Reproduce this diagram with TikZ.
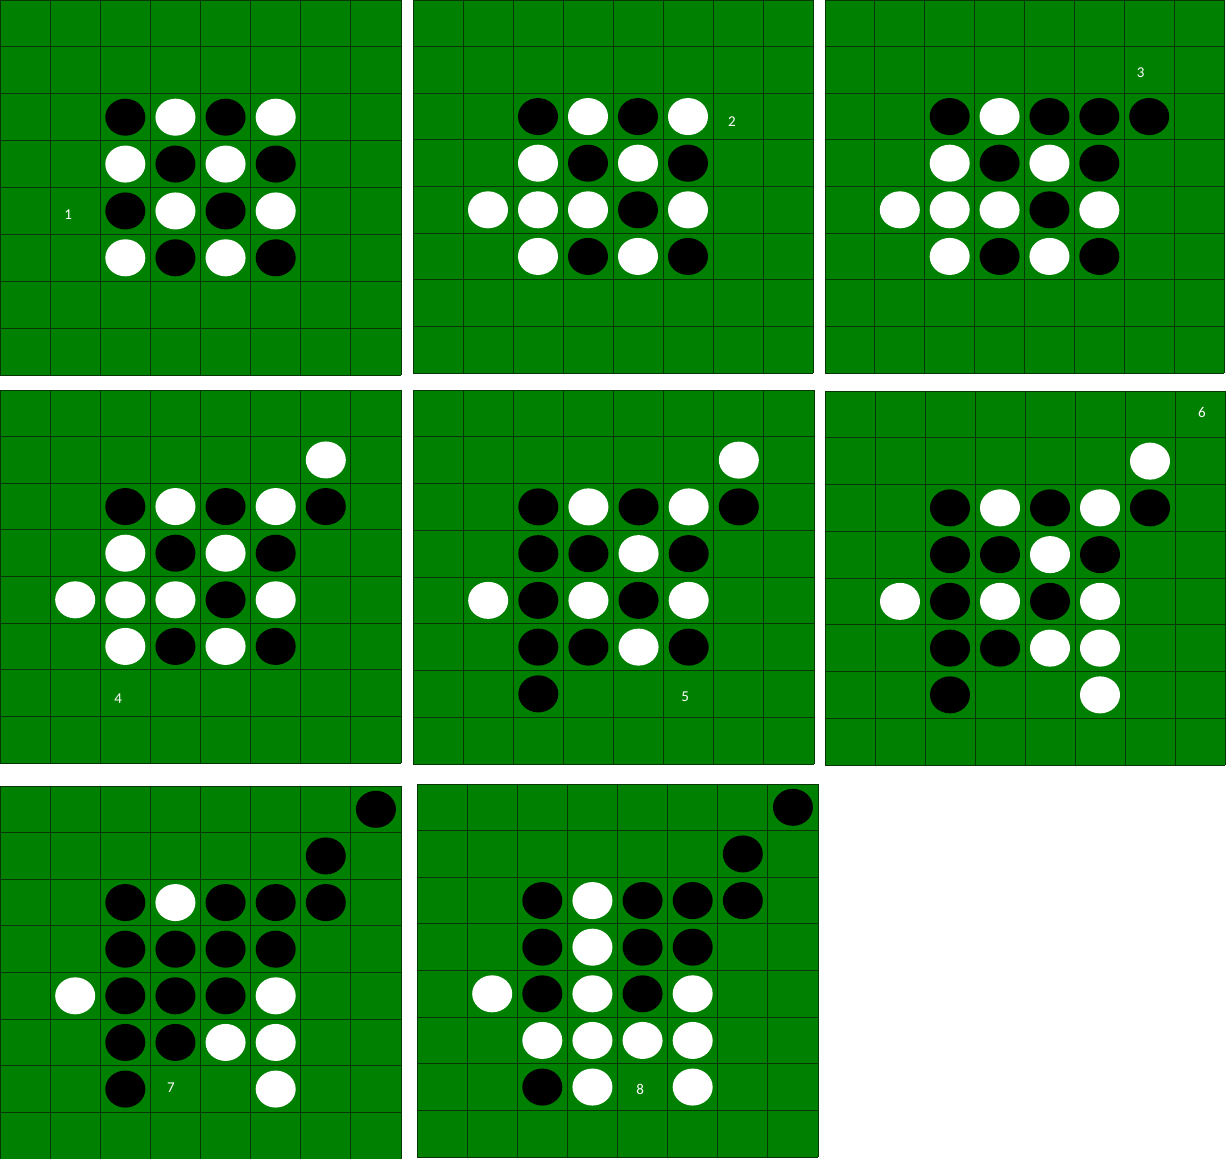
\documentclass[tikz,border=0pt]{standalone}
\usepackage{fontspec}
\setmainfont{Carlito}
\usepackage{tikz}
\usetikzlibrary{shapes.geometric}
\definecolor{feltgreen}{HTML}{008000}
\definecolor{gridgreen}{HTML}{063806}

\tikzset{
  disc/.style={ellipse, draw=none, minimum width=40pt, minimum height=37pt, inner sep=0pt},
  blackdisc/.style={disc, fill=black},
  whitedisc/.style={disc, fill=white},
  gridline/.style={gridgreen, line width=0.9pt},
  movelabel/.style={text=white, font=\fontsize{15}{17}\selectfont, inner sep=0pt}
}

% #1 name, #2 origin, #3 width, #4 height, #5 black, #6 white, #7 label at, #8 label
\newcommand\othelloboard[8]{%
  \pgfmathsetmacro\cellw{#3/8}%
  \pgfmathsetmacro\cellh{#4/8}%
  \begin{scope}[shift={#2}, x=\cellw pt, y=-\cellh pt]
    \fill[feltgreen] (0,0) rectangle (8,8);
    \foreach \i in {0,...,8} {
      \draw[gridline] (\i,0) -- (\i,8);
      \draw[gridline] (0,\i) -- (8,\i);
    }
    \foreach \c/\r in {#5}
      \node[blackdisc] (#1-\c-\r) at (\c+0.5,\r+0.5) {};
    \foreach \c/\r in {#6}
      \node[whitedisc] (#1-\c-\r) at (\c+0.5,\r+0.5) {};
    \node[movelabel] (#1-lbl) at #7 {#8};
  \end{scope}}

\begin{document}
\begin{tikzpicture}[x=1pt, y=-1pt]
  \useasboundingbox[fill=white] (0,0) rectangle (1227,1159);
  % top row
  \othelloboard{b1}{(0,0)}{401}{375}
    {2/2,4/2,3/3,5/3,2/4,4/4,3/5,5/5}
    {3/2,5/2,2/3,4/3,3/4,5/4,2/5,4/5}{(1.36,4.57)}{1}
  \othelloboard{b2}{(413,0)}{400}{373}
    {2/2,4/2,3/3,5/3,4/4,3/5,5/5}
    {3/2,5/2,2/3,4/3,1/4,2/4,3/4,5/4,2/5,4/5}{(6.38,2.6)}{2}
  \othelloboard{b3}{(825,0)}{399}{373}
    {2/2,4/2,5/2,6/2,3/3,5/3,4/4,3/5,5/5}
    {3/2,2/3,4/3,1/4,2/4,3/4,5/4,2/5,4/5}{(6.33,1.55)}{3}
  % middle row
  \othelloboard{b4}{(0,390)}{401}{373}
    {2/2,4/2,6/2,3/3,5/3,4/4,3/5,5/5}
    {6/1,3/2,5/2,2/3,4/3,1/4,2/4,3/4,5/4,2/5,4/5}{(2.36,6.61)}{4}
  \othelloboard{b5}{(413,390)}{401}{374}
    {2/2,4/2,6/2,2/3,3/3,5/3,2/4,4/4,2/5,3/5,5/5,2/6}
    {6/1,3/2,5/2,4/3,1/4,3/4,5/4,4/5}{(5.43,6.57)}{5}
  \othelloboard{b6}{(825,391)}{400}{374}
    {2/2,4/2,6/2,2/3,3/3,5/3,2/4,4/4,2/5,3/5,2/6}
    {6/1,3/2,5/2,4/3,1/4,3/4,5/4,4/5,5/5,5/6}{(7.54,0.47)}{6}
  % bottom row
  \othelloboard{b7}{(0,786)}{401}{373}
    {7/0,6/1,2/2,4/2,5/2,6/2,2/3,3/3,4/3,5/3,2/4,3/4,4/4,2/5,3/5,2/6}
    {3/2,1/4,5/4,4/5,5/5,5/6}{(3.41,6.47)}{7}
  \othelloboard{b8}{(417,784)}{401}{373}
    {7/0,6/1,2/2,4/2,5/2,6/2,2/3,4/3,5/3,2/4,4/4,2/6}
    {3/2,3/3,1/4,3/4,5/4,2/5,3/5,4/5,5/5,3/6,5/6}{(4.45,6.56)}{8}
\end{tikzpicture}
\end{document}
